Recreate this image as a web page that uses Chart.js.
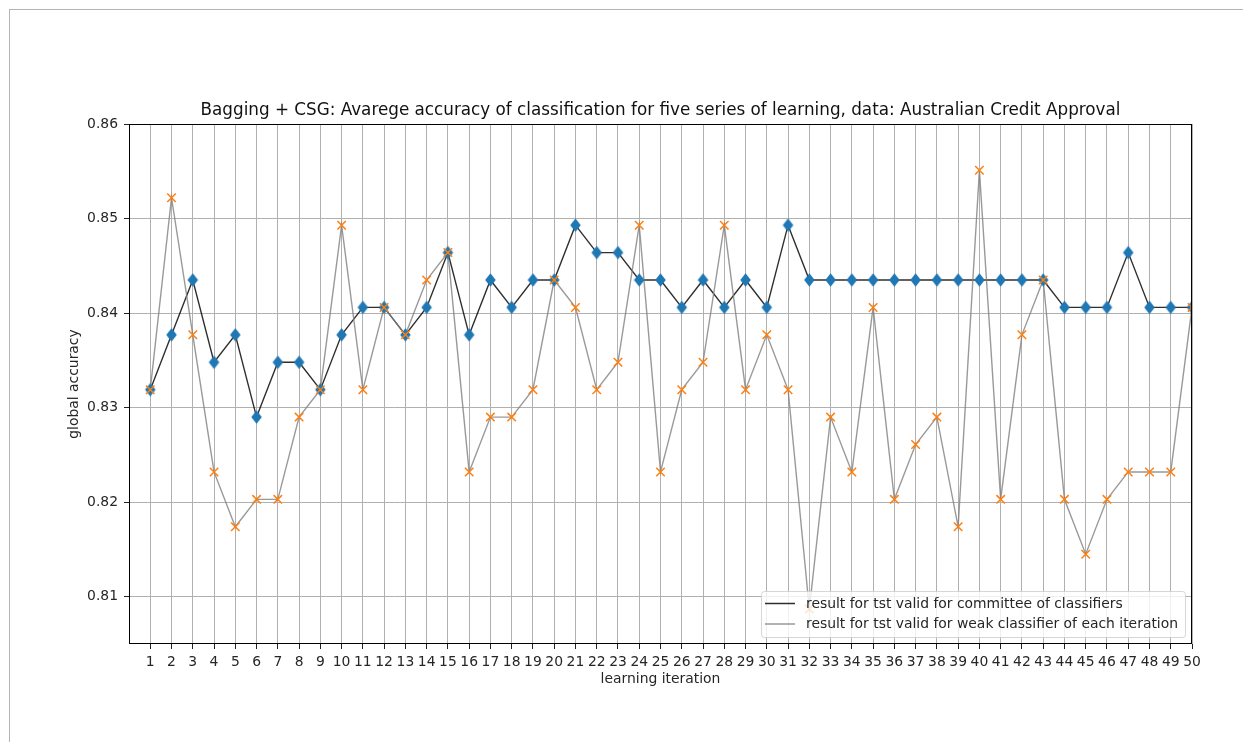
<!DOCTYPE html>
<html>
<head>
<meta charset="utf-8">
<title>Bagging + CSG accuracy</title>
<script src="https://cdn.jsdelivr.net/npm/chart.js@4"></script>
<style>
  html, body { margin: 0; padding: 0; background: #fff; overflow: hidden; }
  #page { position: relative; width: 1243px; height: 742px; overflow: hidden; }
  #frame { position: absolute; left: 9px; top: 9px; width: 1300px; height: 800px; border: 1px solid #b5b5b5; }
  #chart { position: absolute; left: 0; top: 0; }
</style>
</head>
<body>
<div id="page">
  <div id="frame"></div>
  <canvas id="chart" width="1243" height="742"></canvas>
</div>
<script>
// learning iterations 1..50
const iterations = [1, 2, 3, 4, 5, 6, 7, 8, 9, 10,
  11, 12, 13, 14, 15, 16, 17, 18, 19, 20,
  21, 22, 23, 24, 25, 26, 27, 28, 29, 30,
  31, 32, 33, 34, 35, 36, 37, 38, 39, 40,
  41, 42, 43, 44, 45, 46, 47, 48, 49, 50];

// average accuracy of the committee of classifiers
const committee = [0.8319, 0.8377, 0.8435, 0.8348, 0.8377, 0.8290, 0.8348, 0.8348, 0.8319, 0.8377,
  0.8406, 0.8406, 0.8377, 0.8406, 0.8464, 0.8377, 0.8435, 0.8406, 0.8435, 0.8435,
  0.8493, 0.8464, 0.8464, 0.8435, 0.8435, 0.8406, 0.8435, 0.8406, 0.8435, 0.8406,
  0.8493, 0.8435, 0.8435, 0.8435, 0.8435, 0.8435, 0.8435, 0.8435, 0.8435, 0.8435,
  0.8435, 0.8435, 0.8435, 0.8406, 0.8406, 0.8406, 0.8464, 0.8406, 0.8406, 0.8406];

// average accuracy of the weak classifier built at each iteration
const weak = [0.8319, 0.8522, 0.8377, 0.8232, 0.8174, 0.8203, 0.8203, 0.8290, 0.8319, 0.8493,
  0.8319, 0.8406, 0.8377, 0.8435, 0.8464, 0.8232, 0.8290, 0.8290, 0.8319, 0.8435,
  0.8406, 0.8319, 0.8348, 0.8493, 0.8232, 0.8319, 0.8348, 0.8493, 0.8319, 0.8377,
  0.8319, 0.8087, 0.8290, 0.8232, 0.8406, 0.8203, 0.8261, 0.8290, 0.8174, 0.8551,
  0.8203, 0.8377, 0.8435, 0.8203, 0.8145, 0.8203, 0.8232, 0.8232, 0.8232, 0.8406];

const yTicks = [0.81, 0.82, 0.83, 0.84, 0.85, 0.86];
const seriesNames = [
  'result for tst valid for committee of classifiers',
  'result for tst valid for weak classifier of each iteration'
];
const titleText = 'Bagging + CSG: Avarege accuracy of classification for five series of learning, data: Australian Credit Approval';

const FONT = '"DejaVu Sans", "Liberation Sans", sans-serif';
const TEXT = '#262626';
const committeeLine = 'rgba(0,0,0,0.82)';
const weakLine = 'rgba(128,128,128,0.8)';

// blue thin-diamond marker
function diamond(w, h, color) {
  const c = document.createElement('canvas');
  c.width = Math.ceil(w) + 2;
  c.height = Math.ceil(h) + 2;
  const g = c.getContext('2d');
  const cx = c.width / 2, cy = c.height / 2;
  g.beginPath();
  g.moveTo(cx, cy - h / 2);
  g.lineTo(cx + w / 2, cy);
  g.lineTo(cx, cy + h / 2);
  g.lineTo(cx - w / 2, cy);
  g.closePath();
  g.fillStyle = color;
  g.fill();
  return c;
}

const pts = arr => arr.map((v, i) => ({ x: iterations[i], y: v }));

// axes box (all four spines), title centred over the plot, legend in the lower right corner
const decor = {
  id: 'decor',
  afterDraw(chart) {
    const { ctx, chartArea: a } = chart;
    ctx.save();
    ctx.strokeStyle = '#000';
    ctx.lineWidth = 1;
    ctx.strokeRect(Math.round(a.left) + 0.5, Math.round(a.top) + 0.5,
      Math.round(a.right) - Math.round(a.left) - 1, Math.round(a.bottom) - Math.round(a.top) - 1);

    ctx.font = '16.8px ' + FONT;
    ctx.fillStyle = '#111';
    ctx.textAlign = 'center';
    ctx.textBaseline = 'middle';
    ctx.fillText(titleText, (a.left + a.right) / 2, a.top - 13.5);

    ctx.font = '13.9px ' + FONT;
    const colors = [committeeLine, weakLine];
    const tw = Math.max(...seriesNames.map(s => ctx.measureText(s).width));
    const w = tw + 52, h = 46;
    const x = a.right - 7 - w, y = a.bottom - 7 - h;
    ctx.beginPath();
    ctx.roundRect(x + 0.5, y + 0.5, w, h, 3);
    ctx.fillStyle = 'rgba(255,255,255,0.8)';
    ctx.fill();
    ctx.strokeStyle = 'rgba(204,204,204,0.8)';
    ctx.lineWidth = 1;
    ctx.stroke();
    seriesNames.forEach((s, i) => {
      const ly = y + 12.5 + i * 20.5;
      ctx.beginPath();
      ctx.moveTo(x + 4, ly);
      ctx.lineTo(x + 34, ly);
      ctx.strokeStyle = colors[i];
      ctx.lineWidth = 1.5;
      ctx.stroke();
      ctx.fillStyle = TEXT;
      ctx.textBaseline = 'middle';
      ctx.textAlign = 'left';
      ctx.fillText(s, x + 45, ly + 0.5);
    });
    ctx.restore();
  }
};

new Chart(document.getElementById('chart'), {
  type: 'scatter',
  data: {
    datasets: [
      {
        label: 'weak-points',
        data: pts(weak),
        showLine: false,
        pointStyle: 'crossRot',
        pointRadius: 6,
        pointBorderWidth: 1.5,
        pointBorderColor: '#ff7f0e',
        pointBackgroundColor: '#ff7f0e',
        clip: 0,
        order: 0
      },
      {
        label: 'committee-points',
        data: pts(committee),
        showLine: false,
        pointStyle: diamond(10.5, 13.5, '#1f77b4'),
        pointRadius: 6,
        clip: 0,
        order: 1
      },
      {
        label: seriesNames[1],
        data: pts(weak),
        showLine: true,
        borderColor: weakLine,
        borderWidth: 1.4,
        pointRadius: 0,
        tension: 0,
        clip: 0,
        order: 2
      },
      {
        label: seriesNames[0],
        data: pts(committee),
        showLine: true,
        borderColor: committeeLine,
        borderWidth: 1.4,
        pointRadius: 0,
        tension: 0,
        clip: 0,
        order: 3
      }
    ]
  },
  options: {
    responsive: false,
    devicePixelRatio: 1,
    animation: false,
    events: [],
    layout: { padding: { left: 0, right: 51, top: 124, bottom: 0 } },
    plugins: {
      legend: { display: false },
      tooltip: { enabled: false },
      title: { display: false }
    },
    scales: {
      x: {
        type: 'linear',
        min: 0,
        max: 50,
        afterBuildTicks: s => { s.ticks = iterations.map(v => ({ value: v })); },
        afterFit: s => { s.height = 98; },
        ticks: {
          autoSkip: false,
          maxRotation: 0,
          padding: 5,
          color: TEXT,
          font: { family: FONT, size: 13.9 },
          callback: v => String(v)
        },
        grid: { color: '#b0b0b0', lineWidth: 1, tickLength: 5, tickColor: '#222', drawTicks: true },
        border: { display: false },
        title: {
          display: true,
          text: 'learning iteration',
          color: TEXT,
          font: { family: FONT, size: 13.9 },
          padding: { top: 0, bottom: 54 }
        }
      },
      y: {
        type: 'linear',
        min: 0.805,
        max: 0.86,
        afterBuildTicks: s => { s.ticks = yTicks.map(v => ({ value: v })); },
        afterFit: s => { s.width = 129; },
        ticks: {
          padding: 6,
          color: TEXT,
          font: { family: FONT, size: 13.9 },
          callback: v => v.toFixed(2)
        },
        grid: { color: '#b0b0b0', lineWidth: 1, tickLength: 5, tickColor: '#222', drawTicks: true },
        border: { display: false },
        title: {
          display: true,
          text: 'global accuracy',
          color: TEXT,
          font: { family: FONT, size: 13.9 },
          padding: { top: 65.7, bottom: 0 }
        }
      }
    }
  },
  plugins: [decor]
});
</script>
</body>
</html>
